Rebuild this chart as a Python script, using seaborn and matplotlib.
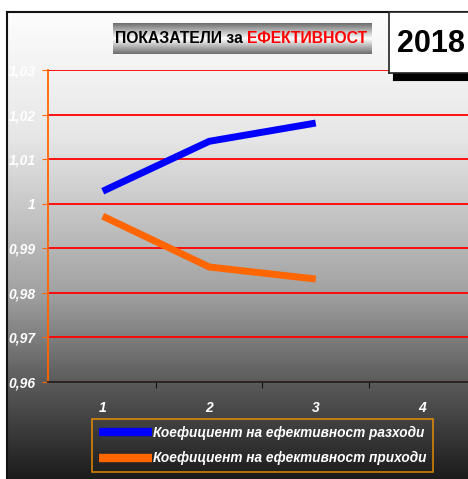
import numpy as np
import pandas as pd
import matplotlib
matplotlib.use("Agg")
import matplotlib.pyplot as plt
from matplotlib.colors import LinearSegmentedColormap
import seaborn as sns

# data
periods = [1, 2, 3]
razhodi = [1.0028, 1.0140, 1.0181]
prihodi = [0.9972, 0.9858, 0.9831]
series_names = ["Коефициент на ефективност разходи", "Коефициент на ефективност приходи"]
x_labels = ["1", "2", "3", "4"]
y_ticks = [0.96, 0.97, 0.98, 0.99, 1.00, 1.01, 1.02, 1.03]
y_labels = ["0,96", "0,97", "0,98", "0,99", "1", "1,01", "1,02", "1,03"]

df = pd.DataFrame({
    "period": periods * 2,
    "value": razhodi + prihodi,
    "series": [series_names[0]] * 3 + [series_names[1]] * 3,
})

plt.rcParams["font.family"] = ["Liberation Sans", "DejaVu Sans"]

W, H = 468, 479
fig = plt.figure(figsize=(W / 100, H / 100), dpi=100)
fig.patch.set_facecolor("white")

def box(x0, y0, x1, y1):
    # pixel box (top-left origin) -> figure rect
    return [x0 / W, 1 - y1 / H, (x1 - x0) / W, (y1 - y0) / H]

# gradient background of the chart area
bg = fig.add_axes(box(7, 12, W, H), zorder=0)
bg_cmap = LinearSegmentedColormap.from_list("bg", [
    (0.0, "#fdfdfd"), (0.27, "#e6e6e6"), (0.6, "#a2a2a2"),
    (0.79, "#5c5c5c"), (1.0, "#1c1c1c")])
bg.imshow(np.linspace(0, 1, 256).reshape(-1, 1), aspect="auto", cmap=bg_cmap,
          extent=[0, 1, 0, 1], origin="upper")
bg.set_xticks([])
bg.set_yticks([])
for side in ["right", "bottom"]:
    bg.spines[side].set_visible(False)
for side in ["left", "top"]:
    bg.spines[side].set_linewidth(1.5)
    bg.spines[side].set_color("#111111")

# main plot
ax = fig.add_axes(box(48, 70, W, 382), zorder=2)
ax.patch.set_alpha(0)
sns.lineplot(data=df, x="period", y="value", hue="series",
             palette=["#0000ff", "#ff6600"], linewidth=5, ax=ax,
             legend=False, solid_capstyle="butt")

ax.set_xlim(0.486, 4.43)
ax.set_ylim(0.96, 1.03)
ax.set_yticks(y_ticks)
ax.set_yticklabels(y_labels)
ax.set_xticks([1.5, 2.5, 3.5])
ax.set_xticklabels([])
ax.set_xticks([1, 2, 3, 4], minor=True)
ax.set_xticklabels(x_labels, minor=True)
ax.tick_params(axis="x", which="major", length=4, direction="out", color="#111111")
ax.tick_params(axis="x", which="minor", length=0, pad=14)
ax.tick_params(axis="y", length=4, color="#ff6600", pad=5)
for lab in ax.get_yticklabels() + ax.get_xticklabels(minor=True):
    lab.set_color("white")
    lab.set_fontweight("bold")
    lab.set_fontstyle("italic")
    lab.set_fontsize(10)
ax.set_xlabel("")
ax.set_ylabel("")
ax.yaxis.grid(True, color="#ff0000", linewidth=1.3)
ax.set_axisbelow(True)
ax.spines["top"].set_visible(False)
ax.spines["right"].set_visible(False)
ax.spines["left"].set_color("#ff6600")
ax.spines["left"].set_linewidth(1.3)
ax.spines["bottom"].set_color("#222222")
ax.spines["bottom"].set_linewidth(1.3)

# legend
handles = [plt.Line2D([], [], color=c, linewidth=6, solid_capstyle="butt")
           for c in ["#0000ff", "#ff6600"]]
leg = fig.legend(handles, series_names, loc="lower left",
                 bbox_to_anchor=(92 / W, 1 - 472 / H), frameon=True,
                 fancybox=False, handlelength=3.9, handletextpad=0.1,
                 labelspacing=0.85, borderpad=0.48, borderaxespad=0,
                 prop={"weight": "bold", "style": "italic", "size": 9.8})
leg.get_frame().set_facecolor("none")
leg.get_frame().set_edgecolor("#ff9900")
leg.get_frame().set_linewidth(1.2)
for t in leg.get_texts():
    t.set_color("white")

# title box with metallic gradient
tb = fig.add_axes(box(113, 23, 371, 54), zorder=3)
tb_cmap = LinearSegmentedColormap.from_list("tb", [
    (0.0, "#6e6e6e"), (0.5, "#ffffff"), (1.0, "#6e6e6e")])
tb.imshow(np.linspace(0, 1, 64).reshape(-1, 1), aspect="auto", cmap=tb_cmap,
          extent=[0, 1, 0, 1])
tb.set_xlim(0, 1)
tb.set_ylim(0, 1)
tb.axis("off")
t1 = tb.text(0.008, 0.5, "ПОКАЗАТЕЛИ за ", fontsize=11.3, fontweight="bold",
             color="black", va="center", ha="left")
fig.canvas.draw()
bb = t1.get_window_extent().transformed(tb.transAxes.inverted())
tb.text(bb.x1, 0.5, "ЕФЕКТИВНОСТ", fontsize=11.3, fontweight="bold",
        color="#ff0000", va="center", ha="left")

# year box with shadow
sh = fig.add_axes(box(393, 20, W, 80), zorder=3)
sh.set_facecolor("black")
sh.set_xticks([])
sh.set_yticks([])
yb = fig.add_axes(box(389, 12, W + 5, 73), zorder=4)
yb.set_facecolor("white")
yb.set_xticks([])
yb.set_yticks([])
for s in yb.spines.values():
    s.set_color("#222222")
    s.set_linewidth(1.2)
yb.text(0.10, 0.47, "2018", fontsize=22, fontweight="bold", color="black",
        va="center", ha="left", transform=yb.transAxes)

fig.savefig("out.png", dpi=100)
